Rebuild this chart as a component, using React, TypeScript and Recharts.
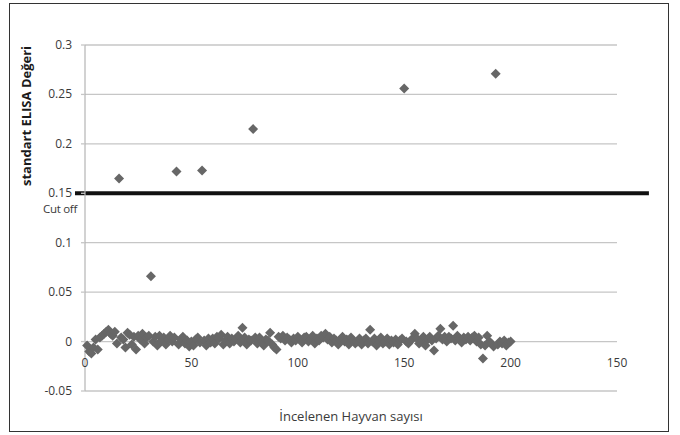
import React from 'react';
import { ScatterChart, Scatter, XAxis, YAxis, CartesianGrid, ReferenceLine, Label } from 'recharts';

// ELISA values for animals 1..200
const elisaValues: number[] = [
  -0.004, -0.010, -0.012, -0.006, 0.002, -0.008, 0.004, 0.006, 0.008, 0.010,
  0.012, 0.008, 0.006, 0.010, -0.002, 0.165, 0.004, 0.002, -0.006, 0.009,
  0.007, -0.003, 0.005, -0.008, 0.006, 0.002, 0.008, -0.002, 0.004, 0.006,
  0.066, 0.000, 0.005, -0.004, 0.006, 0.001, 0.004, -0.003, 0.002, 0.006,
  0.000, 0.004, 0.172, -0.003, 0.002, 0.005, -0.002, 0.001, -0.005, 0.000,
  -0.004, 0.002, 0.004, -0.001, 0.173, 0.001, -0.004, 0.003, -0.001, 0.003,
  -0.002, 0.005, 0.003, 0.007, -0.003, 0.001, 0.005, -0.002, 0.003, 0.000,
  0.003, 0.006, -0.001, 0.014, 0.004, -0.003, 0.002, 0.001, 0.215, 0.004,
  -0.002, 0.004, 0.000, -0.004, 0.002, 0.001, 0.009, -0.003, -0.006, -0.008,
  0.005, 0.003, 0.006, 0.001, 0.004, 0.002, -0.001, 0.003, 0.001, 0.005,
  0.002, -0.001, 0.004, 0.005, 0.000, 0.002, 0.006, -0.002, 0.003, 0.001,
  0.006, 0.004, 0.008, 0.002, 0.005, -0.001, 0.003, 0.001, -0.003, 0.002,
  0.005, 0.000, 0.002, -0.003, 0.004, 0.001, -0.002, 0.000, 0.003, -0.003,
  0.001, 0.003, -0.002, 0.012, 0.000, 0.003, -0.004, 0.001, 0.004, -0.002,
  0.000, 0.003, -0.003, 0.001, -0.001, 0.002, -0.003, 0.001, 0.003, 0.256,
  0.000, -0.002, 0.001, 0.003, 0.008, 0.003, -0.002, 0.000, 0.005, -0.004,
  0.002, 0.005, 0.001, -0.009, 0.003, 0.006, 0.013, 0.002, 0.005, 0.000,
  0.005, 0.003, 0.016, 0.001, 0.006, 0.003, -0.001, 0.004, 0.002, 0.005,
  0.001, 0.004, 0.006, 0.000, 0.004, -0.003, -0.017, -0.004, 0.006, 0.000,
  -0.002, -0.005, 0.271, -0.003, 0.000, -0.002, 0.001, -0.004, -0.001, 0.000,
];

const xTicks = [0, 50, 100, 150, 200, 250];
const xTickLabels = ['0', '50', '100', '150', '200', '150'];
const yTicks = [-0.05, 0, 0.05, 0.1, 0.15, 0.2, 0.25, 0.3];
const yTickLabels = ['-0.05', '0', '0.05', '0.1', '0.15', '0.2', '0.25', '0.3'];
const cutoffValue = 0.15;
const cutoffLabel = 'Cut off';
const xTitle = 'İncelenen Hayvan sayısı';
const yTitle = 'standart ELISA Değeri';

const data = elisaValues.map((v, i) => ({ x: i + 1, y: v }));

const FONT = '"Open Sans", "Noto Sans", sans-serif';

const Diamond = (props: any) => {
  const { cx, cy } = props;
  if (cx == null || cy == null) return null;
  const r = 5;
  return (
    <polygon
      points={`${cx},${cy - r} ${cx + r},${cy} ${cx},${cy + r} ${cx - r},${cy}`}
      fill="#676767"
    />
  );
};

const YTick = (props: any) => {
  const { x, y, payload } = props;
  const i = yTicks.indexOf(payload.value);
  const label = i >= 0 ? yTickLabels[i] : String(payload.value);
  return (
    <g>
      <text x={x} y={y} dy={4} textAnchor="end" fontSize={12} fontFamily={FONT} fill="#3a3a3a">
        {label}
      </text>
      {payload.value === cutoffValue && (
        <text x={x + 5} y={y} dy={20} textAnchor="end" fontSize={11.5} fontFamily={FONT} fill="#3a3a3a" letterSpacing={-0.3}>
          {cutoffLabel}
        </text>
      )}
    </g>
  );
};

const XTick = (props: any) => {
  const { x, y, payload } = props;
  const i = xTicks.indexOf(payload.value);
  const label = i >= 0 ? xTickLabels[i] : String(payload.value);
  return (
    <text x={x} y={y - 24} textAnchor="middle" fontSize={12} fontFamily={FONT} fill="#3a3a3a">
      {label}
    </text>
  );
};

export default function App() {
  return (
    <div style={{ position: 'absolute', left: 0, top: 0, width: 680, height: 435, background: '#fff' }}>
      <div
        style={{
          position: 'absolute',
          left: 9,
          top: 3,
          width: 660,
          height: 429,
          border: '1px solid #333',
          boxSizing: 'border-box',
        }}
      />
      <div style={{ position: 'absolute', left: 0, top: 0 }}>
        <ScatterChart width={680} height={435} margin={{ top: 45, right: 63, bottom: 0, left: 0 }}>
          <CartesianGrid horizontal vertical={false} stroke="#c6c6c6" strokeWidth={1.3} />
          <XAxis
            type="number"
            dataKey="x"
            domain={[0, 250]}
            ticks={xTicks}
            axisLine={false}
            tickLine={false}
            tickSize={0}
            tickMargin={0}
            height={44}
            tick={<XTick />}
            interval={0}
          >
            <Label
              value={xTitle}
              position="insideBottom"
              offset={14}
              style={{ fontSize: 13, fontFamily: FONT, fill: '#3a3a3a' }}
            />
          </XAxis>
          <YAxis
            type="number"
            dataKey="y"
            domain={[-0.05, 0.3]}
            ticks={yTicks}
            width={85}
            tickSize={4}
            tickMargin={9}
            axisLine={{ stroke: '#b4b4b4', strokeWidth: 1.2 }}
            tickLine={{ stroke: '#c6c6c6', strokeWidth: 1.3 }}
            tick={<YTick />}
            interval={0}
          >
            <Label
              content={() => (
                <text
                  x={26}
                  y={116}
                  transform="rotate(-90 26 116)"
                  textAnchor="middle"
                  dominantBaseline="central"
                  fontSize={13}
                  fontWeight="bold"
                  fontFamily={FONT}
                  fill="#1a1a1a"
                >
                  {yTitle}
                </text>
              )}
            />
          </YAxis>
          <Scatter data={data} shape={<Diamond />} isAnimationActive={false} />
          <ReferenceLine
            segment={[{ x: -4.7, y: cutoffValue }, { x: 265, y: cutoffValue }]}
            ifOverflow="visible"
            stroke="#111"
            strokeWidth={4}
          />
        </ScatterChart>
      </div>
    </div>
  );
}
